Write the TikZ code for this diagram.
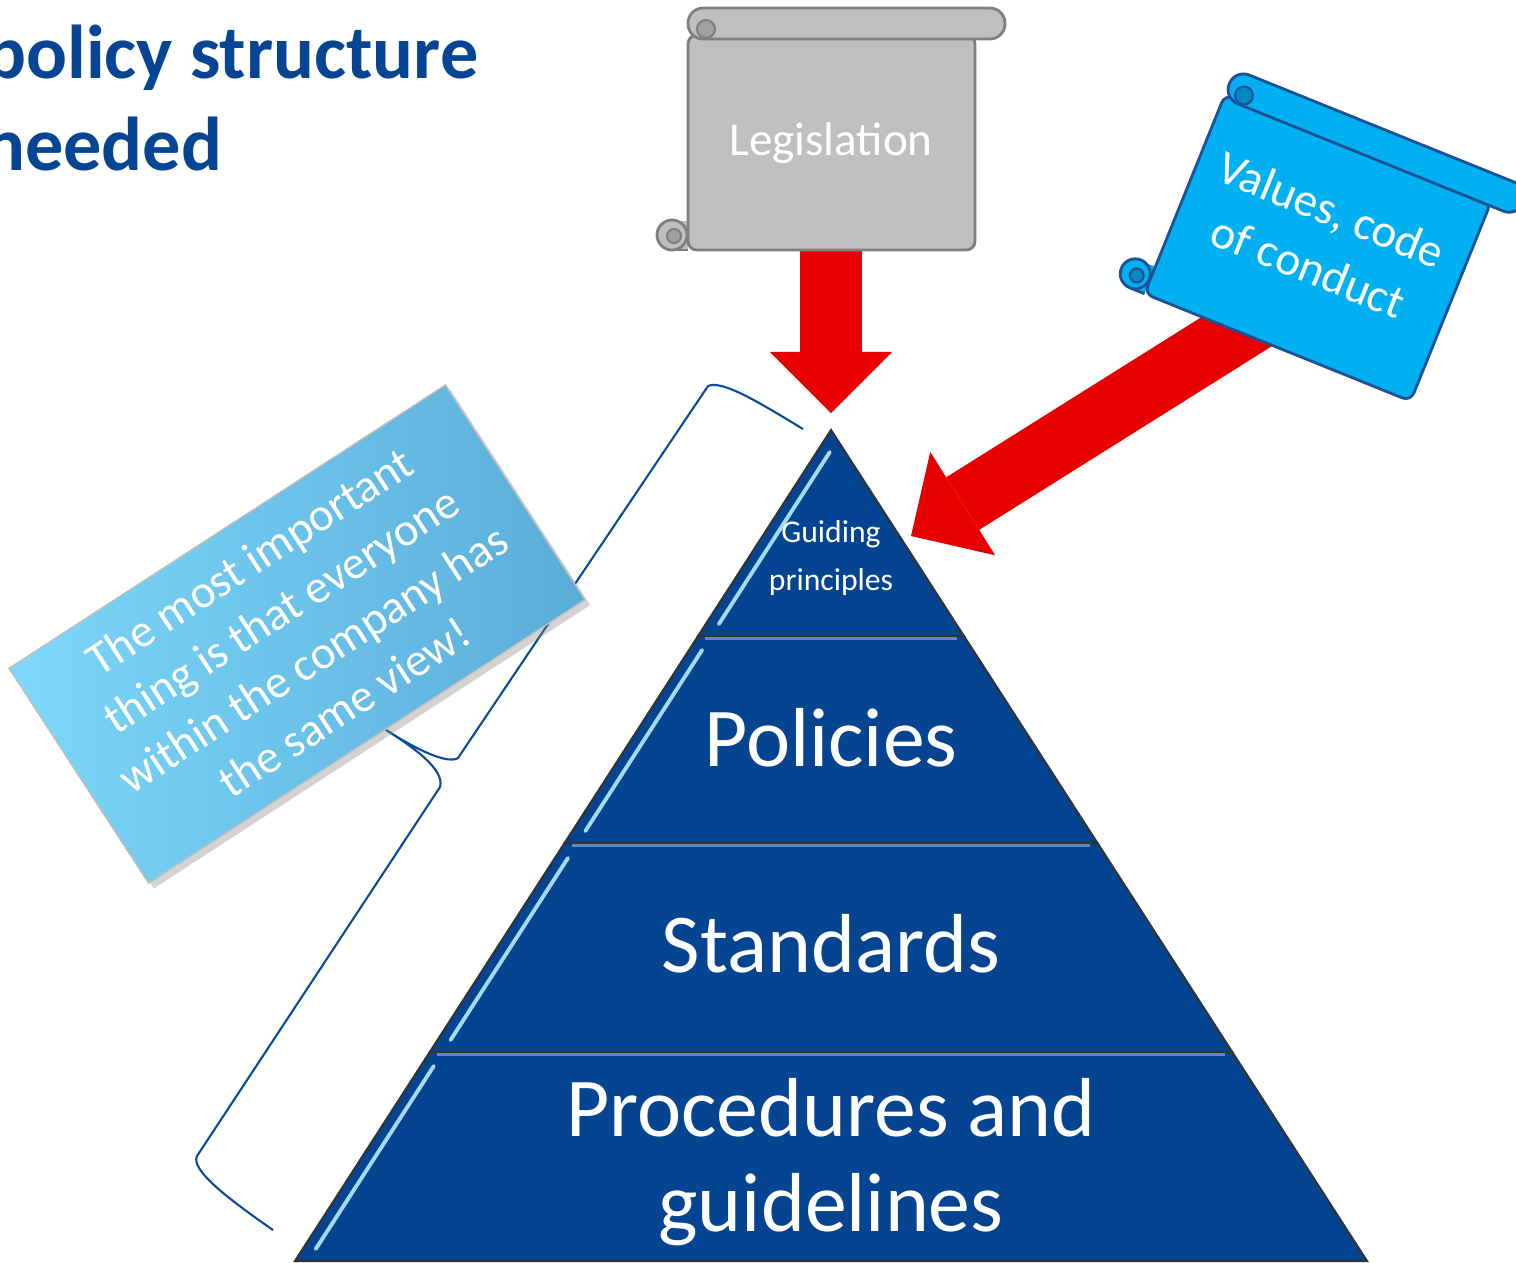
\documentclass[tikz,border=0pt]{standalone}
\usepackage{fontspec}
\setmainfont{Carlito}
\usetikzlibrary{arrows.meta,backgrounds,shadows}

\definecolor{titleblue}{RGB}{5,69,148}
\definecolor{pyrblue}{RGB}{4,68,145}
\definecolor{bevelblue}{RGB}{165,218,245}
\definecolor{bandblue}{RGB}{100,135,185}
\definecolor{arrowred}{RGB}{232,0,0}
\definecolor{scrollgrey}{RGB}{191,191,191}
\definecolor{scrollline}{RGB}{127,127,127}
\definecolor{scrollcurl}{RGB}{160,160,160}
\definecolor{scrollsky}{RGB}{0,176,240}
\definecolor{scrollskyline}{RGB}{30,80,150}
\definecolor{scrollskycurl}{RGB}{0,136,195}
\definecolor{calloutlight}{RGB}{125,216,250}
\definecolor{calloutdark}{RGB}{90,172,216}
\definecolor{braceblue}{RGB}{10,75,155}

\tikzset{
	pics/scrollshape/.style n args={3}{code={
		\fill[#1] (-159,91) rectangle (-143,120);
		\draw[fill=#1, draw=#2, line width=0.8pt, rounded corners=2.5pt] (-143,-95) rectangle (144,120);
		\draw[fill=#1, draw=#2, line width=0.8pt, rounded corners=4.3pt] (-143,-122) rectangle (174,-91);
		\draw[fill=#3, draw=#2, line width=0.6pt] (-125,-101) circle (9);
		\draw[draw=#2, line width=0.8pt] (-159,120) -- (-143,120);
		\draw[fill=#1, draw=#2, line width=0.8pt] (-159,105) circle (15);
		\draw[fill=#3, draw=#2, line width=0.6pt] (-157,106) circle (7);
	}}
}

\begin{document}
\begin{tikzpicture}[x=0.01cm, y=-0.01cm,
	levelfill/.style={fill=pyrblue, draw=black!80, line width=0.6pt},
	bevel/.style={draw=bevelblue, line width=1.1pt, line cap=round},
	topband/.style={draw=bandblue, line width=1pt},
	leveltext/.style={text=white, inner sep=0pt},
	titletext/.style={text=titleblue, font=\fontsize{21.7}{25}\selectfont\bfseries, inner sep=0pt},
	scrolltext/.style={text=white, font=\fontsize{13.4}{17.5}\selectfont, align=center},
	redarrow/.style={draw=arrowred, line width=0.62cm, -{Triangle[length=0.61cm, width=1.22cm, line width=0pt]}},
	calloutbox/.style={left color=calloutlight, right color=calloutdark, draw=black!25, line width=0.4pt,
		minimum width=5.2cm, minimum height=2.56cm, text=white, align=center,
		font=\fontsize{13.3}{16.5}\selectfont,
		drop shadow={opacity=0.35, shadow xshift=1.5pt, shadow yshift=-1.5pt}},
	bracketline/.style={draw=braceblue, line width=0.6pt}]

	\useasboundingbox (0,0) rectangle (1516,1262);

	% title
	\node[titletext, anchor=base east] (title1) at (479,78) {policy structure};
	\node[titletext, anchor=base east] (title2) at (223,170) {needed};

	% bracket
	\draw[bracketline] (803,429) .. controls (765,406) and (722,379) .. (708,386)
		-- (458,758) .. controls (448,764) and (420,752) .. (383,728)
		.. controls (415,748) and (445,770) .. (440,787)
		-- (197,1156) .. controls (190,1170) and (230,1200) .. (273,1230);

	\node[calloutbox, rotate=33] (note) at (297,634)
		{The most important\\thing is that everyone\\within the company has\\the same view!};

	% pyramid
	\foreach \yt/\yb/\ys in {430/636/452, 636/843/650, 843/1052/858, 1052/1261/1066}{
		\filldraw[levelfill] ({831-0.645*(\yt-430)},\yt) -- ({831+0.645*(\yt-430)},\yt)
			-- ({831+0.645*(\yb-430)},\yb) -- ({831-0.645*(\yb-430)},\yb) -- cycle;
		\draw[bevel] ({844-0.645*(\ys-430)},\ys) -- ({844-0.645*(\yb-442)},{\yb-12});
	}
	\foreach \yt in {636,843,1052}
		\draw[topband] ({838-0.645*(\yt-430)},{\yt+2.5}) -- ({824+0.645*(\yt-430)},{\yt+2.5});

	\node[leveltext, font=\fontsize{9}{13.4}\selectfont, align=center] (guide) at (831,558) {Guiding\\principles};
	\node[leveltext, font=\fontsize{23.8}{27}\selectfont, anchor=base] (policies) at (831,766) {Policies};
	\node[leveltext, font=\fontsize{23.8}{27}\selectfont, anchor=base] (standards) at (831,972) {Standards};
	\node[leveltext, font=\fontsize{23.8}{27}\selectfont, align=center] (procedures) at (831,1162) {Procedures and\\guidelines};

	% scrolls
	\pic at (831,130) {scrollshape={scrollgrey}{scrollline}{scrollcurl}};
	\node[scrolltext, anchor=base] (legis) at (831,155) {Legislation};
	\pic[rotate=-22] at (1322,236) {scrollshape={scrollsky}{scrollskyline}{scrollskycurl}};
	\node[scrolltext, rotate=-22] (values) at (1320,238) {Values, code\\of conduct};

	% arrows
	\coordinate (tipa) at (831,413);
	\coordinate (tipb) at (911,536);
	\begin{scope}[on background layer]
		\draw[redarrow] (legis.south) -- (tipa);
		\draw[redarrow] (values.south) -- (tipb);
	\end{scope}
\end{tikzpicture}
\end{document}
